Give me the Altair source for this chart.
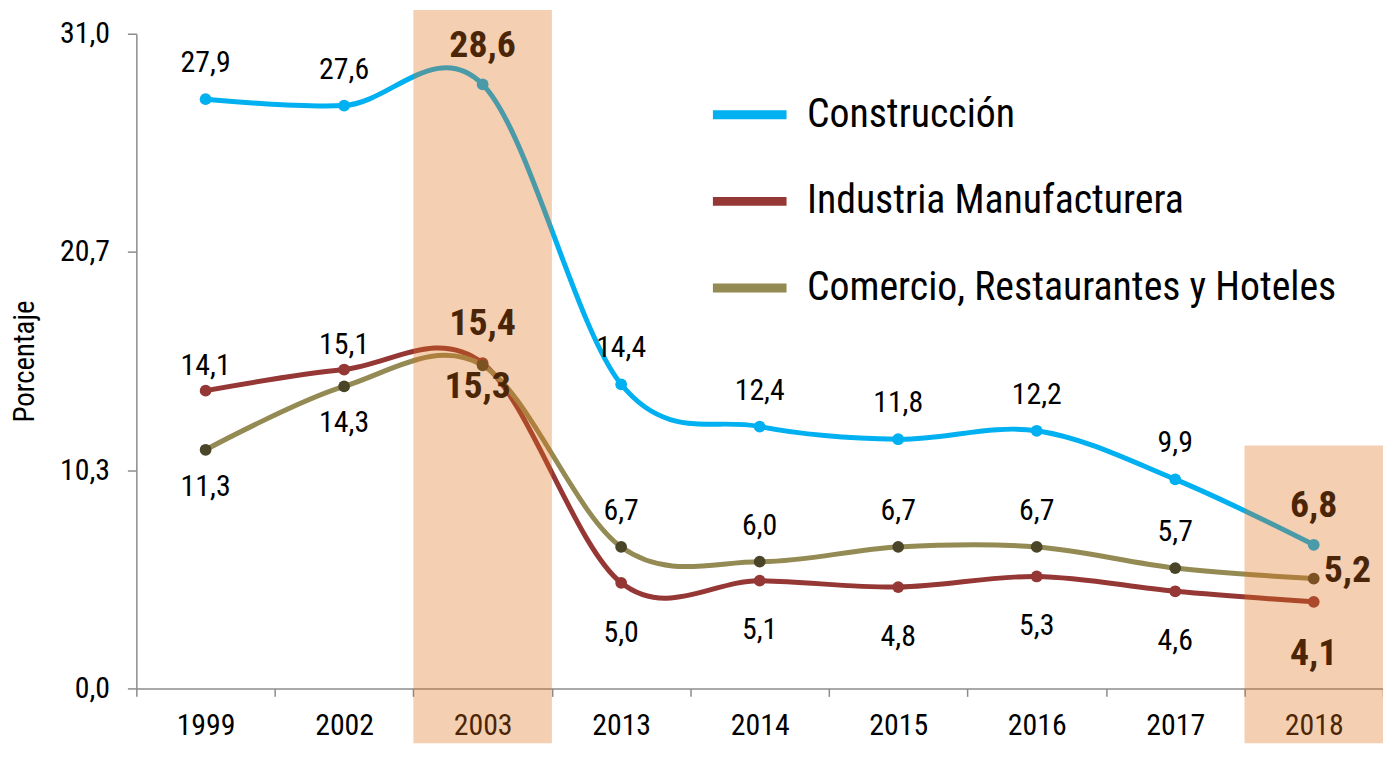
import altair as alt
import pandas as pd

# ---------------- data ----------------
years = ["1999", "2002", "2003", "2013", "2014", "2015", "2016", "2017", "2018"]
construccion = [27.9, 27.6, 28.6, 14.4, 12.4, 11.8, 12.2, 9.9, 6.8]
industria = [14.1, 15.1, 15.4, 5.0, 5.1, 4.8, 5.3, 4.6, 4.1]
comercio = [11.3, 14.3, 15.3, 6.7, 6.0, 6.7, 6.7, 5.7, 5.2]
series_names = ["Construcción", "Industria Manufacturera", "Comercio, Restaurantes y Hoteles"]
line_colors = ["#00B0F0", "#953735", "#948A54"]
point_colors = ["#00B0F0", "#953735", "#4A4528"]
y_ticks = [0.0, 31 / 3, 62 / 3, 31.0]
highlight_years = ["2003", "2018"]
highlight_top = [32.13, 11.5]
highlight_bottom = [-2.6, -2.6]

FONT = ("Liberation Sans Narrow, Arial Narrow, Roboto Condensed, Noto Sans Condensed, "
        "Open Sans Condensed, DejaVu Sans Condensed, sans-serif")


def placement(series, year):
    hi = year in highlight_years
    if series == series_names[0]:
        return "above_bold" if hi else "above"
    if series == series_names[1]:
        if year in ("1999", "2002"):
            return "above_near"
        if year == "2003":
            return "above_bold"
        return "below_bold_far" if hi else "below_far"
    if year in ("1999", "2002"):
        return "below"
    if year == "2003":
        return "below_bold_near"
    if year == "2018":
        return "right_bold"
    return "above"


rows = []
for name, vals in zip(series_names, [construccion, industria, comercio]):
    for y, v in zip(years, vals):
        rows.append({
            "year": y,
            "serie": name,
            "valor": v,
            "label": f"{v:.1f}".replace(".", ","),
            "pos": placement(name, y),
        })
df = pd.DataFrame(rows)

band_df = pd.DataFrame({"year": highlight_years, "top": highlight_top, "bottom": highlight_bottom})

x_enc = alt.X("year:N", sort=years,
              scale=alt.Scale(type="band", domain=years, paddingInner=0, paddingOuter=0),
              axis=alt.Axis(title=None, tickBand="extent", labelAngle=0))
y_scale = alt.Scale(domain=[0, 31], nice=False, zero=False)

base = alt.Chart(df)

lines = base.mark_line(interpolate="cardinal", strokeWidth=5).encode(
    x=x_enc,
    y=alt.Y("valor:Q", scale=y_scale,
            axis=alt.Axis(title="Porcentaje", values=y_ticks,
                          labelExpr="replace(format(datum.value, '.1f'), '.', ',')")),
    color=alt.Color("serie:N", sort=series_names,
                    scale=alt.Scale(domain=series_names, range=line_colors),
                    legend=alt.Legend(title=None, orient="none", legendX=575, legendY=40,
                                      symbolType="stroke", symbolStrokeWidth=9,
                                      symbolSize=5476, labelFontSize=40, labelFont=FONT,
                                      labelColor="#000000", labelOffset=16, labelLimit=0,
                                      rowPadding=25, padding=0)),
    detail="serie:N",
)

points = base.mark_circle(size=140, opacity=1).encode(
    x=alt.X("year:N", sort=years),
    y=alt.Y("valor:Q", scale=y_scale),
    fill=alt.Fill("serie:N", scale=alt.Scale(domain=series_names, range=point_colors), legend=None),
)

placements = {
    "above": dict(dy=-36, bold=False, dx=0, align="center"),
    "above_near": dict(dy=-25, bold=False, dx=0, align="center"),
    "above_bold": dict(dy=-39, bold=True, dx=0, align="center"),
    "below_far": dict(dy=50, bold=False, dx=0, align="center"),
    "below_bold_far": dict(dy=52, bold=True, dx=0, align="center"),
    "below": dict(dy=37, bold=False, dx=0, align="center"),
    "below_bold_near": dict(dy=22, bold=True, dx=-5, align="center"),
    "right_bold": dict(dy=-8, bold=True, dx=10, align="left"),
}

text_layers = []
for pname, p in placements.items():
    text_layers.append(
        base.transform_filter(alt.datum.pos == pname).mark_text(
            dx=p["dx"], dy=p["dy"], align=p["align"], baseline="middle",
            font=FONT, fontSize=38 if p["bold"] else 30,
            fontWeight="bold" if p["bold"] else "normal", color="#000000",
        ).encode(
            x=alt.X("year:N", sort=years),
            y=alt.Y("valor:Q", scale=y_scale),
            text="label:N",
        )
    )

bands = alt.Chart(band_df).mark_rect(color="#DD6E18", opacity=0.335).encode(
    x=alt.X("year:N", sort=years),
    y=alt.Y("top:Q", scale=y_scale),
    y2="bottom:Q",
)

chart = alt.layer(lines, points, *text_layers, bands).properties(
    width=1253, height=658,
    autosize=alt.AutoSizeParams(type="none"),
    padding={"left": 129, "top": 24, "right": 0, "bottom": 55},
).configure_view(stroke=None).configure_axis(
    domainColor="#8C8C8C", tickColor="#8C8C8C", domainWidth=1.5, tickWidth=1.5,
    labelFont=FONT, labelFontSize=30, labelColor="#000000", grid=False,
    titleFont=FONT, titleFontSize=29, titleFontWeight="normal", titleColor="#000000",
).configure_axisX(
    tickSize=8, labelPadding=14,
).configure_axisY(
    tickSize=9, labelPadding=18, titlePadding=20,
)

chart.save("out.html", embed_options={"renderer": "svg", "actions": False})
